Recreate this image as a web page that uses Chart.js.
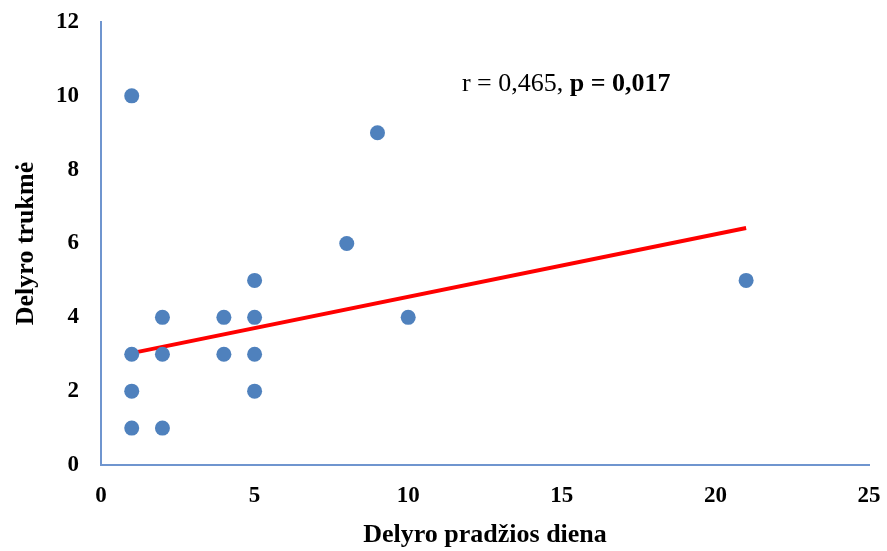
<!DOCTYPE html>
<html><head><meta charset="utf-8">
<script src="https://cdn.jsdelivr.net/npm/chart.js@4"></script>
<style>html,body{margin:0;padding:0;background:#fff}#wrap{width:887px;height:551px}</style>
</head><body><div id="wrap"><canvas id="c" width="887" height="551"></canvas></div>
<script>
const xValues = [1, 9, 8, 5, 21, 2, 4, 5, 10, 1, 2, 4, 5, 1, 5, 1, 2];
const yValues = [10, 9, 6, 5, 5, 4, 4, 4, 4, 3, 3, 3, 3, 2, 2, 1, 1];
const trendX = [1, 21];
const trendY = [3.03, 6.42];
const xTicks = [0, 5, 10, 15, 20, 25];
const yTicks = [0, 2, 4, 6, 8, 10, 12];
const xTitle = 'Delyro pradžios diena';
const yTitle = 'Delyro trukmė';
const noteNormal = 'r = 0,465, ';
const noteBold = 'p = 0,017';

const FONT = "'Liberation Serif', 'Times New Roman', serif";
const axisColor = '#6F95CF';

const points = xValues.map((x, i) => ({x, y: yValues[i]}));
const trend = trendX.map((x, i) => ({x, y: trendY[i]}));

const notePlugin = {
  id: 'note',
  afterDraw(chart) {
    const ctx = chart.ctx;
    const xs = chart.scales.x, ys = chart.scales.y;
    const px = xs.getPixelForValue(11.75), py = ys.getPixelForValue(10.32);
    ctx.save();
    ctx.fillStyle = '#000';
    ctx.textBaseline = 'middle';
    ctx.textAlign = 'left';
    ctx.font = "26px " + FONT;
    ctx.fillText(noteNormal, px, py);
    const w = ctx.measureText(noteNormal).width;
    ctx.font = "bold 26px " + FONT;
    ctx.fillText(noteBold, px + w, py);
    ctx.restore();
  }
};

new Chart(document.getElementById('c'), {
  type: 'scatter',
  data: {
    datasets: [
      {
        type: 'line',
        data: trend,
        borderColor: '#FF0000',
        borderWidth: 4,
        pointRadius: 0,
        fill: false,
        order: 2
      },
      {
        data: points,
        backgroundColor: '#4F81BD',
        borderColor: '#4F81BD',
        pointRadius: 7.5,
        pointBorderWidth: 0,
        order: 1
      }
    ]
  },
  options: {
    responsive: false,
    animation: false,
    layout: { padding: { left: 0, right: 18, top: 22, bottom: 0 } },
    plugins: { legend: { display: false }, tooltip: { enabled: false } },
    scales: {
      x: {
        type: 'linear', min: 0, max: 25,
        afterBuildTicks: s => { s.ticks = xTicks.map(v => ({value: v})); },
        afterFit: s => { s.height = 86; s.paddingLeft = 0; s.paddingRight = 0; },
        grid: { display: false, drawTicks: false },
        border: { display: true, color: axisColor, width: 2 },
        ticks: { padding: 17, color: '#000', font: { family: FONT, size: 23, weight: 'bold' } },
        title: { display: true, text: xTitle, color: '#000', padding: { top: 0, bottom: 0 }, font: { family: FONT, size: 26, weight: 'bold' } }
      },
      y: {
        type: 'linear', min: 0, max: 12,
        afterBuildTicks: s => { s.ticks = yTicks.map(v => ({value: v})); },
        afterFit: s => { s.width = 101; s.paddingTop = 0; s.paddingBottom = 0; },
        grid: { display: false, drawTicks: false },
        border: { display: true, color: axisColor, width: 2 },
        ticks: { padding: 22, color: '#000', font: { family: FONT, size: 23, weight: 'bold' } },
        title: { display: true, text: yTitle, color: '#000', padding: { top: 11, bottom: 0 }, font: { family: FONT, size: 26, weight: 'bold' } }
      }
    }
  },
  plugins: [notePlugin]
});
</script></body></html>
